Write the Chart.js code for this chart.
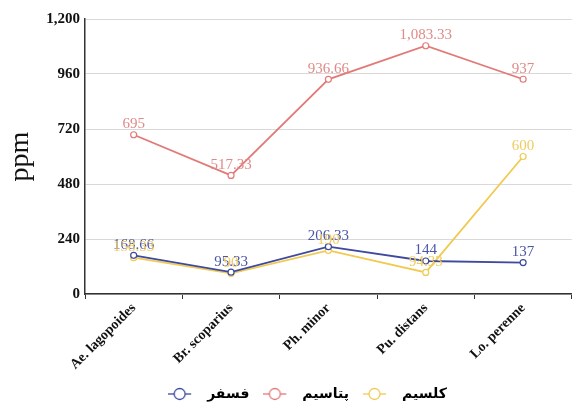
<!DOCTYPE html>
<html>
<head>
<meta charset="utf-8">
<script src="https://cdn.jsdelivr.net/npm/chart.js@4"></script>
<style>
  html, body { margin: 0; padding: 0; background: #fff; }
  #wrap { width: 577px; height: 405px; }
</style>
</head>
<body>
<div id="wrap"><canvas id="chart"></canvas></div>
<script>
const categories = ['Ae. lagopoides', 'Br. scoparius', 'Ph. minor', 'Pu. distans', 'Lo. perenne'];
const phosphorus = [168.66, 95.33, 206.33, 144, 137];
const potassium = [695, 517.33, 936.66, 1083.33, 937];
const calcium = [158.33, 90, 190, 94.33, 600];
const seriesNames = ['فسفر', 'پتاسیم', 'کلسیم'];
const seriesColors = ['#3e4a9e', '#e27a78', '#f1ca52'];
const labelColors = ['#4a56a6', '#e08a88', '#f0cc60'];

// marker like -o- for the legend (right part left blank as gap before the text)
function legendMarker(color) {
    const c = document.createElement('canvas');
    c.width = 32; c.height = 14;
    const ctx = c.getContext('2d');
    ctx.strokeStyle = color;
    ctx.lineWidth = 1.3;
    ctx.beginPath();
    ctx.moveTo(0, 7); ctx.lineTo(23, 7);
    ctx.stroke();
    ctx.beginPath();
    ctx.arc(11.5, 7, 5.5, 0, Math.PI * 2);
    ctx.fillStyle = '#fff';
    ctx.fill();
    ctx.stroke();
    return c;
}

function fmt(v) {
    return v.toLocaleString('en-US', { maximumFractionDigits: 2 });
}

// data labels above points
const valueLabels = {
    id: 'valueLabels',
    afterDatasetsDraw(chart) {
        const ctx = chart.ctx;
        ctx.save();
        ctx.font = '15px "Liberation Serif", serif';
        ctx.textAlign = 'center';
        ctx.textBaseline = 'bottom';
        chart.data.datasets.forEach((ds, i) => {
            const meta = chart.getDatasetMeta(i);
            meta.data.forEach((pt, j) => {
                ctx.fillStyle = labelColors[i];
                ctx.fillText(fmt(ds.data[j]), pt.x, pt.y - 3);
            });
        });
        ctx.restore();
    }
};

// legend sits a bit right of centre and low; x labels run into the legend band
const layoutTweaks = {
    id: 'layoutTweaks',
    afterLayout(chart) {
        const lg = chart.legend;
        lg.left += 17; lg.right += 17;
        lg.top += 6; lg.bottom += 6;
        chart.scales.x.bottom = chart.height;
    }
};

const ctx = document.getElementById('chart').getContext('2d');
new Chart(ctx, {
    type: 'line',
    data: {
        labels: categories,
        datasets: [phosphorus, potassium, calcium].map((d, i) => ({
            label: seriesNames[i],
            data: d,
            borderColor: seriesColors[i],
            backgroundColor: '#fff',
            borderWidth: 1.8,
            pointRadius: 3,
            pointBorderWidth: 1.2,
            pointBackgroundColor: '#fff',
            pointBorderColor: seriesColors[i],
            tension: 0
        }))
    },
    options: {
        responsive: true,
        maintainAspectRatio: false,
        animation: false,
        layout: { padding: { top: 19, right: 0, left: 4, bottom: 0 } },
        plugins: {
            tooltip: { enabled: false },
            legend: {
                position: 'bottom',
                labels: {
                    usePointStyle: true,
                    pointStyleWidth: 32,
                    color: '#222',
                    font: { family: '"DejaVu Sans", sans-serif', size: 14, weight: 'bold' },
                    padding: 14,
                    generateLabels(chart) {
                        return chart.data.datasets.map((ds, i) => ({
                            text: ds.label,
                            pointStyle: legendMarker(seriesColors[i]),
                            fillStyle: '#fff',
                            strokeStyle: seriesColors[i],
                            lineWidth: 0,
                            datasetIndex: i,
                            hidden: false
                        }));
                    }
                }
            }
        },
        scales: {
            x: {
                offset: true,
                afterFit: s => { s.height = 73; },
                grid: {
                    offset: true,
                    drawOnChartArea: false,
                    drawTicks: true,
                    tickLength: 5,
                    color: '#333'
                },
                border: { color: '#333', width: 1.5 },
                ticks: {
                    color: '#111',
                    maxRotation: 45,
                    minRotation: 45,
                    padding: 1,
                    font: { family: '"Liberation Serif", serif', size: 14, weight: 'bold' }
                }
            },
            y: {
                min: 0,
                max: 1200,
                afterFit: s => { s.width = 81; },
                ticks: {
                    stepSize: 240,
                    color: '#111',
                    padding: 5,
                    font: { family: '"Liberation Serif", serif', size: 15, weight: 'bold' },
                    callback: v => v.toLocaleString('en-US')
                },
                grid: {
                    color: '#d9d9d9',
                    drawTicks: false
                },
                border: { color: '#333', width: 1.5 },
                title: {
                    display: true,
                    text: 'ppm',
                    color: '#111',
                    padding: { top: 0, bottom: 0 },
                    font: { family: '"Liberation Serif", serif', size: 28 }
                }
            }
        }
    },
    plugins: [valueLabels, layoutTweaks]
});
</script>
</body>
</html>
